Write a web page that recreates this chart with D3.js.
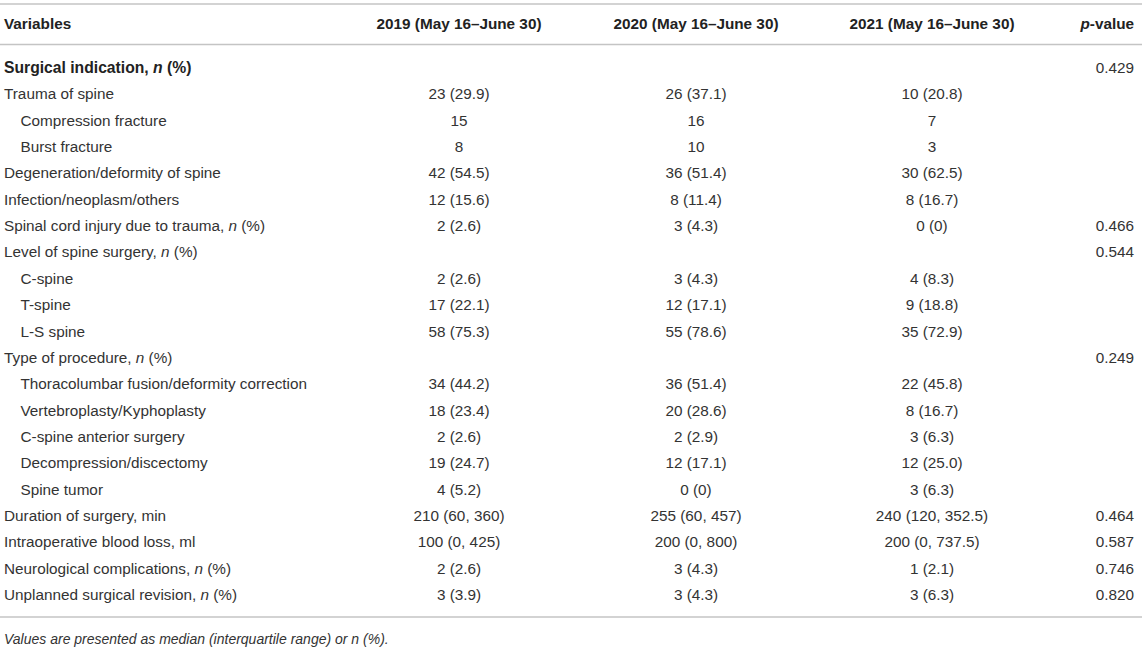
<!DOCTYPE html>
<html>
<head>
<meta charset="utf-8">
<script src="https://cdn.jsdelivr.net/npm/d3@7"></script>
<style>
  body { margin: 0; background: #fff; }
  svg { font-family: "Liberation Sans", Arial, sans-serif; }
</style>
</head>
<body>
<div id="chart"></div>
<script>
// table content; *x* marks italic text
const headers = ["Variables", "2019 (May 16–June 30)", "2020 (May 16–June 30)", "2021 (May 16–June 30)", "*p*-value"];

const labels = [
    "Surgical indication, *n* (%)",
    "Trauma of spine",
    "Compression fracture",
    "Burst fracture",
    "Degeneration/deformity of spine",
    "Infection/neoplasm/others",
    "Spinal cord injury due to trauma, *n* (%)",
    "Level of spine surgery, *n* (%)",
    "C-spine",
    "T-spine",
    "L-S spine",
    "Type of procedure, *n* (%)",
    "Thoracolumbar fusion/deformity correction",
    "Vertebroplasty/Kyphoplasty",
    "C-spine anterior surgery",
    "Decompression/discectomy",
    "Spine tumor",
    "Duration of surgery, min",
    "Intraoperative blood loss, ml",
    "Neurological complications, *n* (%)",
    "Unplanned surgical revision, *n* (%)"
];

const indented = [0, 0, 1, 1, 0, 0, 0, 0, 1, 1, 1, 0, 1, 1, 1, 1, 1, 0, 0, 0, 0];
const boldRows = [1, 0, 0, 0, 0, 0, 0, 0, 0, 0, 0, 0, 0, 0, 0, 0, 0, 0, 0, 0, 0];

const values2019 = ["", "23 (29.9)", "15", "8", "42 (54.5)", "12 (15.6)", "2 (2.6)", "",
    "2 (2.6)", "17 (22.1)", "58 (75.3)", "", "34 (44.2)", "18 (23.4)", "2 (2.6)", "19 (24.7)",
    "4 (5.2)", "210 (60, 360)", "100 (0, 425)", "2 (2.6)", "3 (3.9)"];

const values2020 = ["", "26 (37.1)", "16", "10", "36 (51.4)", "8 (11.4)", "3 (4.3)", "",
    "3 (4.3)", "12 (17.1)", "55 (78.6)", "", "36 (51.4)", "20 (28.6)", "2 (2.9)", "12 (17.1)",
    "0 (0)", "255 (60, 457)", "200 (0, 800)", "3 (4.3)", "3 (4.3)"];

const values2021 = ["", "10 (20.8)", "7", "3", "30 (62.5)", "8 (16.7)", "0 (0)", "",
    "4 (8.3)", "9 (18.8)", "35 (72.9)", "", "22 (45.8)", "8 (16.7)", "3 (6.3)", "12 (25.0)",
    "3 (6.3)", "240 (120, 352.5)", "200 (0, 737.5)", "1 (2.1)", "3 (6.3)"];

const pValues = ["0.429", "", "", "", "", "", "0.466", "0.544", "", "", "", "0.249",
    "", "", "", "", "", "0.464", "0.587", "0.746", "0.820"];

const footnote = "Values are presented as median (interquartile range) or n (%).";

const width = 1146, height = 653;
const fontSize = 15.3;

const svg = d3.select("#chart").append("svg")
    .attr("width", width)
    .attr("height", height);

// row baselines
const y = d3.scaleLinear()
    .domain([0, labels.length - 1])
    .range([73, 600]);

// column anchors: label left, three centred year columns, p-value right
const x = d3.scaleOrdinal()
    .domain(["label", "y2019", "y2020", "y2021", "p"])
    .range([4, 459, 696, 932, 1134]);

const anchors = { label: "start", y2019: "middle", y2020: "middle", y2021: "middle", p: "end" };

function richText(sel, str) {
    str.split("*").forEach((part, i) => {
        if (!part) return;
        sel.append("tspan")
            .attr("font-style", i % 2 ? "italic" : null)
            .text(part);
    });
}

// rules
const rules = [4, 44.5, 617];
svg.selectAll(".rule")
    .data(rules)
    .enter()
    .append("line")
    .attr("class", "rule")
    .attr("x1", 0)
    .attr("x2", 1142)
    .attr("y1", d => d)
    .attr("y2", d => d)
    .attr("stroke", "#c4c4c4")
    .attr("stroke-width", 1.6);

// header
const colKeys = x.domain();
svg.selectAll(".head")
    .data(headers)
    .enter()
    .append("text")
    .attr("class", "head")
    .attr("x", (d, i) => x(colKeys[i]))
    .attr("y", 29)
    .attr("text-anchor", (d, i) => anchors[colKeys[i]])
    .attr("font-size", fontSize)
    .attr("font-weight", "bold")
    .attr("fill", "#222")
    .each(function(d) { richText(d3.select(this), d); });

// body rows
const rows = labels.map((label, i) => ({
    label,
    indent: indented[i],
    bold: boldRows[i],
    cells: [values2019[i], values2020[i], values2021[i], pValues[i]]
}));

const rowG = svg.selectAll(".row")
    .data(rows)
    .enter()
    .append("g")
    .attr("class", "row")
    .attr("transform", (d, i) => `translate(0,${y(i)})`);

rowG.append("text")
    .attr("x", d => x("label") + (d.indent ? 16.5 : 0))
    .attr("font-size", d => d.bold ? fontSize + 0.4 : fontSize)
    .attr("font-weight", d => d.bold ? "bold" : null)
    .attr("fill", d => d.bold ? "#222" : "#333")
    .each(function(d) { richText(d3.select(this), d.label); });

rowG.selectAll(".cell")
    .data(d => d.cells.map((v, j) => ({ v, key: colKeys[j + 1] })))
    .enter()
    .append("text")
    .attr("class", "cell")
    .attr("x", d => x(d.key))
    .attr("text-anchor", d => anchors[d.key])
    .attr("font-size", fontSize)
    .attr("fill", "#333")
    .text(d => d.v);

svg.append("text")
    .attr("x", 4)
    .attr("y", 644)
    .attr("font-size", 14)
    .attr("font-style", "italic")
    .attr("fill", "#333")
    .text(footnote);
</script>
</body>
</html>
